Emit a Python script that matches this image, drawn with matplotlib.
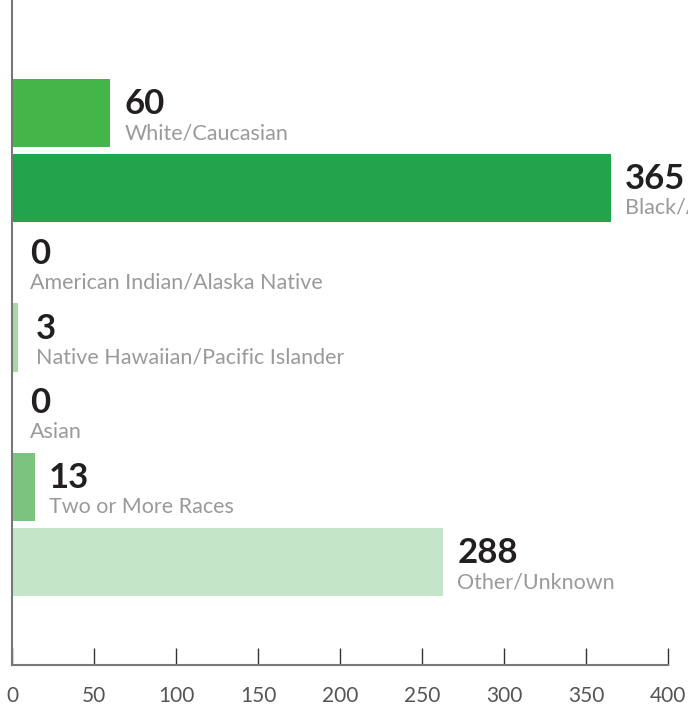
import matplotlib
matplotlib.use("Agg")
import matplotlib.pyplot as plt

# data
categories = ["White/Caucasian", "Black/African American", "American Indian/Alaska Native",
              "Native Hawaiian/Pacific Islander", "Asian", "Two or More Races", "Other/Unknown"]
counts = [60, 365, 0, 3, 0, 13, 288]
# bar lengths as drawn in the picture (the 288 bar is drawn shorter than its label)
drawn = [60, 365, 0, 3.5, 0, 14, 263]
colors = ["#44b549", "#21a44a", "#21a44a", "#a8d8a5", "#21a44a", "#7cc47d", "#c5e5c8"]
ticks = [0, 50, 100, 150, 200, 250, 300, 350, 400]

fig = plt.figure(figsize=(6.88, 7.05), dpi=100)
ax = fig.add_axes([12 / 688, 40 / 705, 656 / 688, 665 / 705])

y = list(range(len(categories)))
ax.barh(y, drawn, height=0.91, color=colors, left=0)

for i in y:
    dx = 14 if counts[i] > 5 else 18
    ax.annotate(str(counts[i]), xy=(drawn[i], i), xytext=(dx, -1), textcoords="offset pixels",
                ha="left", va="baseline", fontsize=25, fontweight="bold",
                color="#231f20", family="Lato", annotation_clip=False)
    ax.annotate(categories[i], xy=(drawn[i], i), xytext=(dx, -26), textcoords="offset pixels",
                ha="left", va="baseline", fontsize=15.5, color="#9a9a9a",
                family="Lato", annotation_clip=False)

ax.set_xlim(0, 400)
ax.set_ylim(7.376, -1.51)
ax.set_xticks(ticks)
ax.set_xticklabels([str(t) for t in ticks], family="Lato", fontsize=15, color="#555555")
ax.set_yticks([])
ax.tick_params(axis="x", direction="in", length=12, width=1, color="#333333", pad=15)

for s in ["top", "right"]:
    ax.spines[s].set_visible(False)
for s in ["left", "bottom"]:
    ax.spines[s].set_color("#777777")
    ax.spines[s].set_linewidth(1.5)

fig.savefig("out.png", dpi=100)
